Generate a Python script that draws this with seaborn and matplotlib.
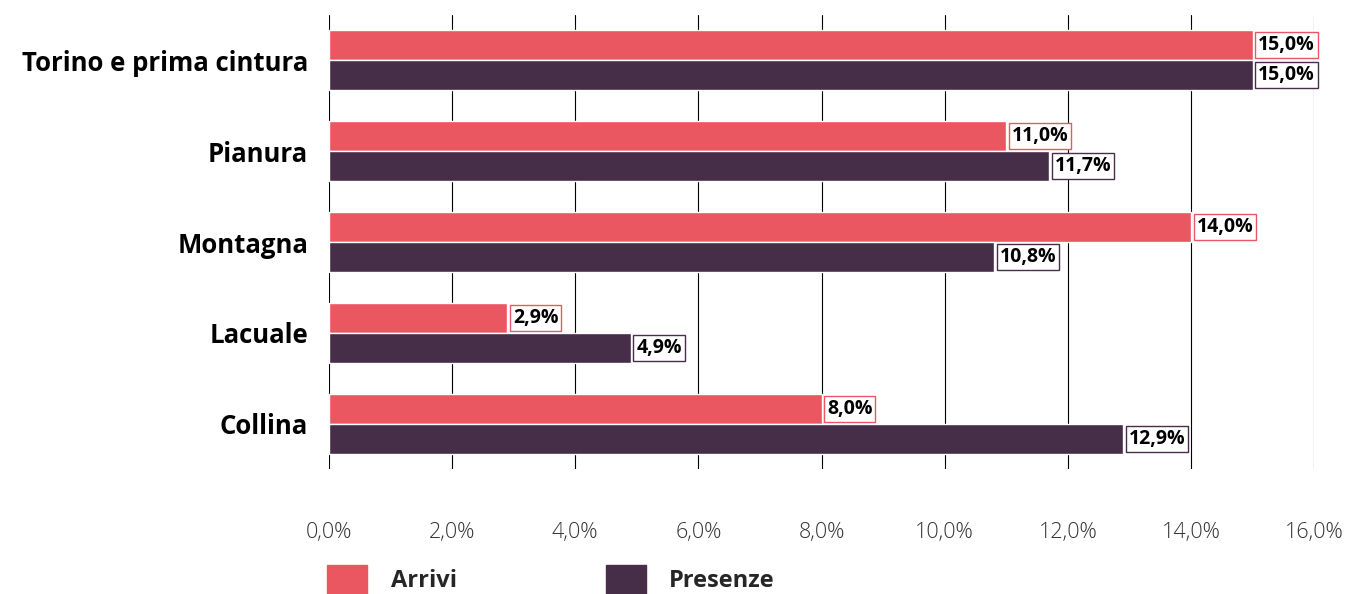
import matplotlib
matplotlib.use("Agg")
import matplotlib.pyplot as plt
import seaborn as sns
import pandas as pd
from matplotlib.patches import Patch

# ── Data ──────────────────────────────────────────────────────────────────────
categories = ["Torino e prima cintura", "Pianura", "Montagna", "Lacuale", "Collina"]
arrivi     = [15.0, 11.0, 14.0, 2.9, 8.0]
presenze   = [15.0, 11.7, 10.8, 4.9, 12.9]
series     = ["Arrivi", "Presenze"]
colors     = ["#EB5760", "#472E48"]

df = pd.DataFrame({
    "cat": categories * 2,
    "val": arrivi + presenze,
    "serie": ["Arrivi"] * 5 + ["Presenze"] * 5,
})

sns.set_theme(style="white")
plt.rcParams["font.family"] = ["Open Sans", "DejaVu Sans"]

fig = plt.figure(figsize=(13.59, 5.94), dpi=100)
ax = fig.add_axes([0.242, 0.21, 0.725, 0.765])

sns.barplot(data=df, y="cat", x="val", hue="serie", order=categories,
            hue_order=series, palette=colors, orient="h", width=0.66,
            saturation=1, ax=ax, legend=False)

for container, c in zip(ax.containers, colors):
    labels = [f"{v:.1f}%".replace(".", ",") for v in container.datavalues]
    ax.bar_label(container, labels=labels, padding=4, fontsize=14,
                 fontweight="bold", color="black",
                 bbox=dict(boxstyle="square,pad=0.15", fc="white", ec=c, lw=1))

ax.set_xlim(0, 16)
ax.set_xticks(range(0, 17, 2))
ax.set_xticklabels([f"{t},0%" for t in range(0, 17, 2)], fontsize=15.5,
                   color="#333333", fontweight="light")
ax.tick_params(axis="x", pad=38, length=0)
ax.tick_params(axis="y", length=0, pad=15)
ax.set_yticklabels(categories, fontsize=18.5, fontweight="bold", color="black")
ax.set_xlabel("")
ax.set_ylabel("")
ax.grid(axis="x", color="black", lw=0.8)
ax.set_axisbelow(True)
for s in ax.spines.values():
    s.set_visible(False)

handles = [Patch(color=c, label=s) for s, c in zip(series, colors)]
leg = fig.legend(handles=handles, loc="center left", bbox_to_anchor=(0.225, 0.025),
                 ncol=2, frameon=False, fontsize=17,
                 handlelength=1.7, handleheight=1.5, columnspacing=6.3,
                 handletextpad=1.0)
for t in leg.get_texts():
    t.set_fontweight("bold")

fig.savefig("out.png", dpi=100)
